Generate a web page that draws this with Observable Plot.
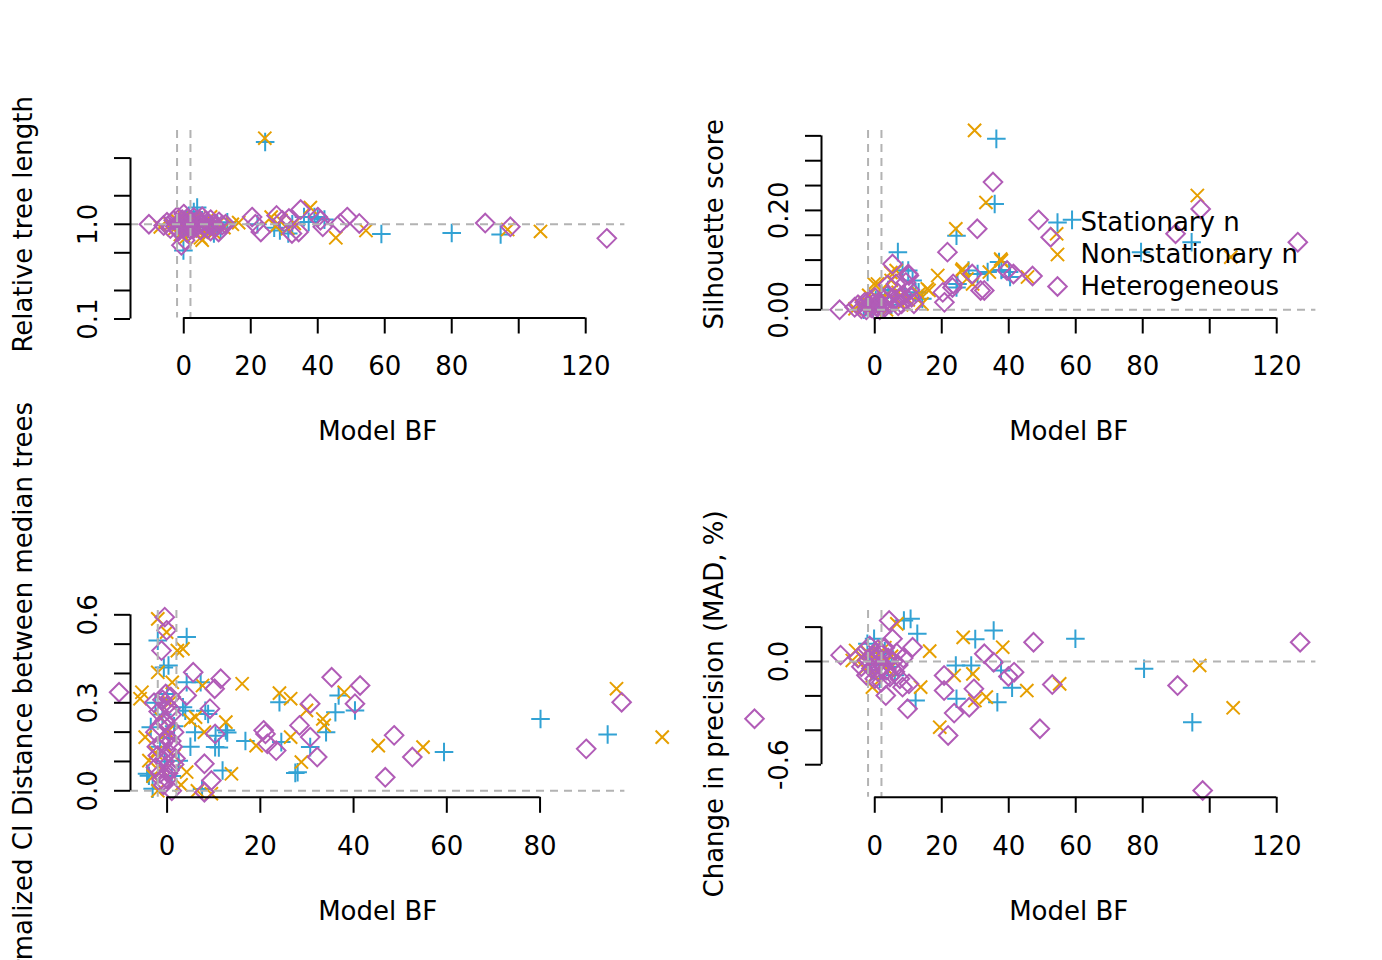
<!DOCTYPE html>
<html><head><meta charset="utf-8">
<script src="https://cdn.jsdelivr.net/npm/d3@7"></script>
<script src="https://cdn.jsdelivr.net/npm/@observablehq/plot@0.6"></script>
<style>
body{margin:0;background:#fff;}
#chart{position:relative;width:1382px;height:960px;overflow:hidden;background:#fff;font-family:"DejaVu Sans";}
</style></head><body><div id="chart"></div>
<script>
// ---------- data ----------
const seriesNames = ["Stationary n", "Non-stationary n", "Heterogeneous"];
const xTitle = "Model BF";
const yTitles = ["Relative tree length", "Silhouette score", "Normalized CI Distance between median trees", "Change in precision (MAD, %)"];

const xTicksWide = [0, 20, 40, 60, 80, 100, 120];
const xTicksNarrow = [0, 20, 40, 60, 80];
const xHiddenLabels = [100];
const bfThresholds = [-2, 2];

const tlYTicks = [0.1, 0.2, 0.5, 1, 2, 5];
const tlYLabels = [0.1, 1];
const trYTicks = [0, 0.05, 0.1, 0.15, 0.2, 0.25, 0.3, 0.35];
const trYLabels = [0, 0.2];
const blYTicks = [0, 0.1, 0.2, 0.3, 0.4, 0.5, 0.6];
const blYLabels = [0, 0.3, 0.6];
const brYTicks = [-0.6, -0.4, -0.2, 0, 0.2];
const brYLabels = [-0.6, 0];

// Relative tree length
const tlStat = [[-2,0.92],[-1,1.05],[-0.1,0.53],[0,0.95],[0.5,1.12],[1,0.88],[1.5,1.18],[2.5,0.93],[3,1.35],[4,1.5],[5,1.0],[6,0.87],[7,1.08],[8,0.95],[9,0.8],[10,1.0],[11,0.9],[13,1.05],[22,1.0],[24.3,7.4],[27,0.92],[28.7,0.86],[31.2,0.8],[32.4,1.0],[35.9,1.19],[37.3,1.06],[39,1.19],[40,1.15],[42,1.12],[59,0.79],[80,0.81],[94.6,0.78]];
const tlNon = [[-7,0.94],[-4,1.0],[-3,0.88],[-2,1.1],[-1,0.78],[0,1.2],[0.5,0.72],[1,1.0],[2,0.85],[3,1.15],[4,0.95],[5,0.72],[5.5,0.68],[6,1.05],[7,0.9],[8,1.2],[9,0.82],[10,1.0],[12,0.92],[14.5,1.0],[16.4,1.04],[24.2,8.1],[26.1,1.19],[27.5,0.95],[29,1.1],[31,0.9],[33,1.02],[37.8,1.5],[45.4,0.72],[54.4,0.86],[96.7,0.88],[106.5,0.84]];
const tlHet = [[-10.4,1.0],[-6,0.97],[-5,1.05],[-4,0.9],[-3,1.1],[-2.5,0.95],[-2,1.2],[-1.5,0.85],[-1,1.02],[-0.7,0.6],[-0.5,1.12],[0,0.92],[0,1.28],[0.4,0.68],[0.5,1.05],[1,0.82],[1,1.15],[1.5,0.97],[2,1.1],[2,0.88],[2.5,1.0],[3,1.18],[3,0.9],[3.5,1.05],[4,0.95],[4.5,1.12],[5,0.87],[5,1.02],[5.5,1.2],[6,0.95],[6.5,1.08],[7,0.9],[7.5,1.0],[8,1.12],[8,0.85],[9,1.0],[9.5,0.93],[10.4,0.83],[10.5,1.06],[11.5,0.98],[12.5,1.0],[20.4,1.19],[21.4,1.0],[23,0.83],[27.7,1.24],[29.4,1.1],[31.4,1.15],[32.3,0.8],[34.3,0.83],[34.9,1.43],[40,1.19],[40.8,1.1],[41.5,0.94],[46.7,1.02],[48.8,1.19],[52.4,1.02],[90,1.03],[97.5,0.94],[126.3,0.71]];

// Silhouette score
const trStat = [[-3.3,0.0],[-2.7,0.005],[-1.5,0.012],[-0.5,0.003],[0.3,0.02],[1,0.008],[2,0.03],[3,0.015],[4,0.04],[5,0.01],[6.9,0.116],[8.3,0.079],[9,0.03],[10,0.079],[11.3,0.059],[12.2,0.035],[13.1,0.035],[14.2,0.022],[24.4,0.149],[24.4,0.045],[24.7,0.052],[28,0.079],[30.7,0.072],[33.7,0.076],[35.8,0.213],[36.3,0.344],[37.1,0.096],[37.8,0.08],[40.1,0.076],[40.4,0.066],[58.9,0.181],[79.5,0.116],[94.6,0.136]];
const trNon = [[-5.9,0.002],[-4,0.008],[-3,0.015],[-1.8,0.029],[-1.7,0.012],[-0.5,0.005],[-0.2,0.052],[0.8,0.052],[1.5,0.02],[2.3,0.042],[2.8,0.025],[3.5,0.0],[4.8,0.075],[4.9,0.059],[6.4,0.079],[7,0.035],[8,0.01],[10,0.02],[13.2,0.032],[14.1,0.012],[15.7,0.042],[16.2,0.039],[18.8,0.069],[24.2,0.163],[26,0.079],[26.2,0.082],[27.5,0.062],[29.2,0.052],[29.8,0.361],[33.2,0.216],[34.2,0.076],[37.6,0.102],[37.8,0.099],[45.6,0.066],[54.3,0.153],[96.3,0.23],[106.3,0.106]];
const trHet = [[-10.5,0.0],[-6,0.005],[-5,0.01],[-4,0.002],[-3,0.015],[-2.5,0.0],[-2,0.008],[-1.5,0.02],[-1,0.004],[-0.5,0.012],[0,0.0],[0,0.025],[0.5,0.008],[1,0.015],[1.5,0.0],[2,0.01],[2.5,0.02],[3,0.005],[3.8,0.029],[3.9,0.05],[4.5,0.012],[5.3,0.092],[6,0.02],[6.3,0.052],[7,0.008],[7.5,0.025],[8,0.012],[8.5,0.03],[9.3,0.055],[9,0.018],[10,0.072],[10.2,0.069],[10.5,0.04],[11,0.025],[11.7,0.012],[20.3,0.035],[20.8,0.015],[21.7,0.116],[23.2,0.045],[23.4,0.052],[29.1,0.072],[30.6,0.163],[31.6,0.039],[32.7,0.039],[35.3,0.257],[39.5,0.079],[41.4,0.072],[47.1,0.068],[48.9,0.181],[52.5,0.146],[89.8,0.153],[97.3,0.203],[126.3,0.136]];

// Normalized CI distance
const blStat = [[-4.3,0.058],[-3.9,0.051],[-3.5,0.217],[-3.1,0.007],[-2.5,0.3],[-2,0.512],[-1.5,0.15],[-1,0.26],[-0.7,0.42],[-0.5,0.1],[0,0.33],[0.3,0.427],[0.5,0.18],[1,0.05],[1.5,0.22],[2.5,0.102],[3.4,0.285],[3.9,0.273],[4.2,0.524],[4.2,0.37],[5,0.15],[6,0.2],[7.2,0.37],[7.5,0.006],[8.2,0.273],[8.8,0.262],[10.3,0.149],[10.4,0.188],[11.1,0.148],[11.9,0.069],[12.6,0.206],[12.9,0.199],[16.8,0.17],[24.1,0.302],[24.5,0.166],[27.5,0.061],[28,0.063],[30.7,0.149],[34.1,0.2],[36.1,0.268],[36.8,0.325],[40.3,0.274],[59.4,0.132],[80.1,0.245],[94.5,0.192]];
const blNon = [[-5.8,0.314],[-5.4,0.336],[-4.7,0.183],[-3.9,0.103],[-3,0.05],[-2.5,0.13],[-2,0.586],[-2,0.404],[-2,0.0],[-1.5,0.25],[-1,0.07],[-0.1,0.541],[0,0.2],[0.5,0.3],[1.1,0.37],[1.5,0.12],[2.2,0.478],[3,0.02],[3.4,0.484],[4.2,0.064],[5,0.24],[6.1,0.251],[6.5,0.0],[7.6,0.359],[8,0.2],[9.5,-0.01],[12.6,0.234],[13.8,0.058],[16.1,0.365],[19.1,0.154],[24.1,0.333],[26.5,0.314],[26.5,0.183],[28.8,0.098],[29.9,0.274],[33.4,0.245],[33.7,0.223],[38,0.336],[45.3,0.154],[54.9,0.149],[96.4,0.348],[106.2,0.183]];
const blHet = [[-10.3,0.336],[-2.8,0.3],[-2.5,0.2],[-2.4,0.08],[-2.2,0.15],[-2,0.12],[-1.8,0.27],[-1.6,0.22],[-1.5,0.06],[-1.2,0.478],[-1.2,0.04],[-1,0.31],[-1,0.16],[-0.8,0.02],[-0.5,0.592],[-0.5,0.24],[-0.5,0.1],[-0.3,0.33],[-0.1,0.547],[0,0.29],[0,0.18],[0,0.04],[0.2,0.06],[0.3,0.13],[0.5,0.22],[0.5,0.07],[0.7,0.28],[0.8,0.32],[0.9,0.17],[1,0.26],[1,0.0],[1.2,0.15],[1.5,0.09],[1.5,0.2],[1.8,0.11],[4.2,0.325],[5.6,0.404],[8,0.092],[8,-0.005],[9.2,0.28],[9.5,0.035],[10.2,0.348],[10.3,0.194],[11.5,0.382],[20.7,0.206],[21.1,0.194],[21.5,0.16],[23.4,0.137],[28.4,0.223],[30.7,0.297],[30.7,0.183],[32.2,0.115],[35.3,0.387],[40.3,0.297],[41.4,0.359],[46.8,0.046],[48.7,0.189],[52.6,0.115],[89.9,0.143],[97.5,0.302]];

// Change in precision
const brStat = [[-2.2,0.103],[-1.5,0.02],[-1,-0.05],[-0.2,0.132],[0.5,-0.02],[1,0.05],[1.5,-0.1],[2,0.0],[3,0.06],[4,-0.03],[5,0.02],[6,-0.08],[8.7,0.238],[10.7,0.248],[12.2,-0.227],[12.7,0.161],[24.2,-0.023],[24.4,-0.217],[28.8,-0.023],[30,0.13],[35.5,0.18],[36.6,-0.237],[37.7,-0.052],[41,-0.153],[59.9,0.132],[80.4,-0.042],[94.8,-0.353]];
const brNon = [[-6.7,0.006],[-5.7,0.064],[-4,0.03],[-3,-0.04],[-2,0.05],[-0.7,-0.149],[0,-0.08],[1,0.04],[2,-0.02],[3,0.08],[4,-0.05],[5,0.03],[6.6,0.219],[13.7,-0.149],[16.4,0.06],[19.4,-0.382],[23.7,-0.081],[26.4,0.14],[29.3,-0.072],[29.9,-0.227],[33.3,-0.207],[38.2,0.083],[45.4,-0.169],[55.2,-0.13],[97,-0.023],[107,-0.269]];
const brHet = [[-35.9,-0.333],[-10.2,0.037],[-5,0.02],[-4,-0.03],[-3,0.06],[-2.5,-0.08],[-2,0.01],[-1.5,0.09],[-1,-0.04],[-0.5,0.03],[0,-0.1],[0,0.05],[0.5,-0.02],[1,0.07],[1,-0.06],[1.5,0.0],[2,-0.12],[2,0.04],[2.5,-0.03],[3,0.08],[3.3,-0.198],[3.5,-0.05],[4,0.02],[4.3,0.238],[4.5,-0.09],[5.3,0.132],[5.5,0.0],[6,-0.06],[6.5,0.05],[7,-0.02],[7.5,-0.1],[8.3,-0.149],[8.5,0.02],[9.8,-0.275],[10.2,-0.13],[11.3,0.083],[20.7,-0.081],[20.7,-0.169],[21.9,-0.43],[23.7,-0.3],[28.2,-0.266],[29.6,-0.159],[32.7,0.045],[35.5,-0.004],[39.9,-0.087],[41.6,-0.062],[47.4,0.112],[49.3,-0.391],[53,-0.134],[90.4,-0.14],[97.9,-0.75],[127,0.112]];

// ---------- drawing ----------
const COL = ["#32A2D4", "#E69F00", "#B15CB7"];
const SYM = [{symbol: "plus", r: 6.04}, {symbol: "times", r: 6.06}, {symbol: "diamond2", r: 8.38}];
const LW = 2;
const FONT = 26;
const chart = document.getElementById("chart");

function baseStyle(left, top) {
  return {position: "absolute", left: left + "px", top: top + "px", overflow: "visible",
    background: "transparent", fontFamily: "DejaVu Sans", fontSize: FONT + "px", color: "#000"};
}

function panel(cfg) {
  const {left, top, mb, xDomain, xTicks, yType, yDomain, yTicks, yLabels, yFmt, hLine, yTitle, sets} = cfg;
  const dots = sets.map((s, i) => Plot.dot(s, {x: d => d[0], y: d => d[1], symbol: SYM[i].symbol, r: SYM[i].r,
    stroke: COL[i], strokeWidth: LW, fill: "none"}));
  const dash = {stroke: "#b3b3b3", strokeWidth: LW, strokeDasharray: "8,6"};
  const svg = Plot.plot({
    width: 691, height: 480,
    marginLeft: 130, marginRight: 66.6, marginTop: 130, marginBottom: mb,
    x: {domain: xDomain, axis: null},
    y: {type: yType, domain: yDomain, axis: null},
    style: baseStyle(left, top),
    marks: [
      ...dots,
      Plot.ruleY([hLine], dash),
      Plot.ruleX(bfThresholds, dash),
      Plot.ruleY([yDomain[0]], {x1: xTicks[0], x2: xTicks[xTicks.length - 1], stroke: "#000", strokeWidth: LW}),
      Plot.ruleX([xDomain[0]], {y1: yTicks[0], y2: yTicks[yTicks.length - 1], stroke: "#000", strokeWidth: LW}),
      Plot.axisX({ticks: xTicks, tickSize: 16, tickPadding: 23, label: null, stroke: "#000", strokeWidth: LW, fontSize: FONT,
        tickFormat: d => xHiddenLabels.includes(d) ? "" : String(d)}),
      Plot.axisY({ticks: yTicks, tickSize: 16, tickPadding: 18, tickRotate: -90, label: null, stroke: "#000", strokeWidth: LW, fontSize: FONT,
        tickFormat: d => yLabels.includes(d) ? yFmt(d) : ""}),
      Plot.text([xTitle], {text: d => d, frameAnchor: "bottom", dy: 114, lineAnchor: "middle", textAnchor: "middle", fontSize: FONT, fill: "#000"}),
      Plot.text([yTitle], {text: d => d, frameAnchor: "left", dx: -107, rotate: -90, lineAnchor: "middle", textAnchor: "middle", fontSize: FONT, fill: "#000"})
    ]
  });
  chart.appendChild(svg);
}

const xDomWide = [-15.9, 131.7];
const xDomNarrow = [-7.85, 98.2];

panel({left: 0, top: 0, mb: 162.5, xDomain: xDomWide, xTicks: xTicksWide, yType: "log", yDomain: [0.1025, 9.77],
  yTicks: tlYTicks, yLabels: tlYLabels, yFmt: d => d.toFixed(1), hLine: 1, yTitle: yTitles[0], sets: [tlStat, tlNon, tlHet]});
panel({left: 691, top: 0, mb: 162.5, xDomain: xDomWide, xTicks: xTicksWide, yType: "linear", yDomain: [-0.0165, 0.3608],
  yTicks: trYTicks, yLabels: trYLabels, yFmt: d => d.toFixed(2), hLine: 0, yTitle: yTitles[1], sets: [trStat, trNon, trHet]});
panel({left: 0, top: 480, mb: 163.2, xDomain: xDomNarrow, xTicks: xTicksNarrow, yType: "linear", yDomain: [-0.0222, 0.6147],
  yTicks: blYTicks, yLabels: blYLabels, yFmt: d => d.toFixed(1), hLine: 0, yTitle: yTitles[2], sets: [blStat, blNon, blHet]});
panel({left: 691, top: 480, mb: 163.2, xDomain: xDomWide, xTicks: xTicksWide, yType: "linear", yDomain: [-0.7895, 0.2965],
  yTicks: brYTicks, yLabels: brYLabels, yFmt: d => d.toFixed(1), hLine: 0, yTitle: yTitles[3], sets: [brStat, brNon, brHet]});

// legend (inside the top-right panel)
const legend = Plot.plot({
  width: 300, height: 100, marginLeft: 17, marginRight: 0, marginTop: 0, marginBottom: 0,
  y: {type: "point", domain: seriesNames, range: [22, 86], padding: 0, axis: null},
  style: baseStyle(1040, 200),
  marks: [
    ...seriesNames.map((n, i) => Plot.dot([n], {y: d => d, frameAnchor: "left", symbol: SYM[i].symbol, r: SYM[i].r,
      stroke: COL[i], strokeWidth: LW, fill: "none"})),
    Plot.text(seriesNames, {y: d => d, text: d => d, frameAnchor: "left", dx: 23, textAnchor: "start", fontSize: FONT, fill: "#000"})
  ]
});
chart.appendChild(legend);
</script></body></html>
